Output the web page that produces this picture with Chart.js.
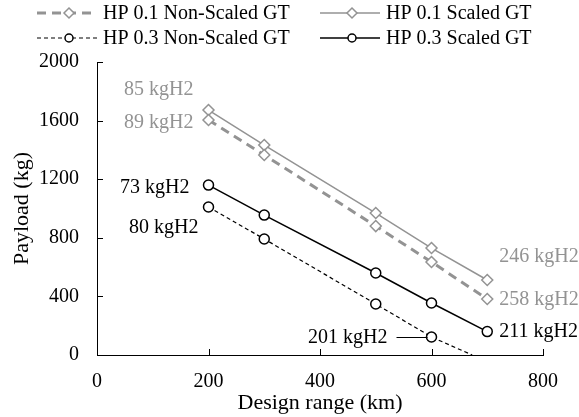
<!DOCTYPE html>
<html>
<head>
<meta charset="utf-8">
<script src="https://cdn.jsdelivr.net/npm/chart.js@4.4.1/dist/chart.umd.min.js"></script>
<style>
    html, body { margin: 0; padding: 0; background: #fff; }
    #wrap { width: 579px; height: 417px; }
</style>
</head>
<body>
<div id="wrap"><canvas id="chart" width="579" height="417"></canvas></div>
<script>
// design range (km)
const ranges = [200, 300, 500, 600, 700];
const hp01NonScaled = [1604, 1365, 880, 635, 382];
const hp01Scaled = [1672, 1433, 969, 730, 512];
const hp03NonScaled = [1010, 792, 348, 123];
const hp03Scaled = [1160, 955, 560, 355, 160];
// dashed HP 0.3 line keeps going until it hits zero
const hp03NonScaledEnd = [673, 0];

const xTicks = [0, 200, 400, 600, 800];
const yTicks = [0, 400, 800, 1200, 1600, 2000];

// hydrogen mass labels: dataset, point index, text
const massLabels = [
    [1, 0, '85 kgH2'],
    [0, 0, '89 kgH2'],
    [3, 0, '73 kgH2'],
    [2, 0, '80 kgH2'],
    [1, 4, '246 kgH2'],
    [0, 4, '258 kgH2'],
    [3, 4, '211 kgH2'],
    [2, 3, '201 kgH2']
];
const labelPlace = [
    { dx: -15, dy: -20, align: 'right' },
    { dx: -15, dy: 3, align: 'right' },
    { dx: -19, dy: 3, align: 'right' },
    { dx: -10, dy: 21, align: 'right' },
    { dx: 12, dy: -23, align: 'left' },
    { dx: 12, dy: 1, align: 'left' },
    { dx: 12, dy: 0, align: 'left' },
    { dx: -44, dy: 1, align: 'right', leader: true }
];

const GRAY = '#939393';
const SERIF = '"Liberation Serif", "Times New Roman", serif';

function toPoints(xs, ys) {
    return ys.map((y, i) => ({ x: xs[i], y: y }));
}

const dashedBlack = toPoints(ranges, hp03NonScaled);
dashedBlack.push({ x: hp03NonScaledEnd[0], y: hp03NonScaledEnd[1] });

const datasets = [
    {
        label: 'HP 0.1 Non-Scaled GT',
        data: toPoints(ranges, hp01NonScaled),
        borderColor: GRAY, borderWidth: 3, borderDash: [9, 6],
        pointStyle: 'rectRot', pointRadius: 5.5, pointBorderWidth: 1.5,
        pointBackgroundColor: '#fff', pointBorderColor: GRAY
    },
    {
        label: 'HP 0.1 Scaled GT',
        data: toPoints(ranges, hp01Scaled),
        borderColor: GRAY, borderWidth: 1.5,
        pointStyle: 'rectRot', pointRadius: 5.5, pointBorderWidth: 1.5,
        pointBackgroundColor: '#fff', pointBorderColor: GRAY
    },
    {
        label: 'HP 0.3 Non-Scaled GT',
        data: dashedBlack,
        borderColor: '#000', borderWidth: 1.2, borderDash: [4, 3],
        pointStyle: 'circle', pointBorderWidth: 1.5,
        pointRadius: dashedBlack.map((p, i) => i < hp03NonScaled.length ? 5 : 0),
        pointBackgroundColor: '#fff', pointBorderColor: '#000'
    },
    {
        label: 'HP 0.3 Scaled GT',
        data: toPoints(ranges, hp03Scaled),
        borderColor: '#000', borderWidth: 1.5,
        pointStyle: 'circle', pointRadius: 5, pointBorderWidth: 1.5,
        pointBackgroundColor: '#fff', pointBorderColor: '#000'
    }
];

// legend, inward tick marks and mass labels
const decorations = {
    id: 'decorations',
    afterDraw(chart) {
        const ctx = chart.ctx;
        const xs = chart.scales.x, ys = chart.scales.y;
        const area = chart.chartArea;
        ctx.save();

        // inward ticks
        ctx.strokeStyle = '#000';
        ctx.lineWidth = 1;
        ctx.beginPath();
        xTicks.forEach(v => {
            if (v === 0) return;
            const px = Math.round(xs.getPixelForValue(v)) + 0.5;
            ctx.moveTo(px, area.bottom);
            ctx.lineTo(px, area.bottom - 6);
        });
        yTicks.forEach(v => {
            if (v === 0) return;
            const py = Math.round(ys.getPixelForValue(v)) + 0.5;
            ctx.moveTo(area.left, py);
            ctx.lineTo(area.left + 6, py);
        });
        ctx.stroke();

        // mass labels
        ctx.font = '20px ' + SERIF;
        ctx.textBaseline = 'middle';
        massLabels.forEach((m, i) => {
            const place = labelPlace[i];
            const pt = chart.getDatasetMeta(m[0]).data[m[1]];
            ctx.fillStyle = m[0] < 2 ? GRAY : '#000';
            ctx.textAlign = place.align;
            ctx.fillText(m[2], pt.x + place.dx, pt.y + place.dy);
            if (place.leader) {
                ctx.strokeStyle = '#000';
                ctx.lineWidth = 1;
                ctx.beginPath();
                ctx.moveTo(pt.x + place.dx + 9, Math.round(pt.y) + 0.5);
                ctx.lineTo(pt.x - 4, Math.round(pt.y) + 0.5);
                ctx.stroke();
            }
        });

        // legend
        const cols = [37, 320];
        const rows = [13, 38];
        ctx.textAlign = 'left';
        datasets.forEach((ds, i) => {
            const x0 = cols[i % 2];
            const y0 = rows[Math.floor(i / 2)];
            ctx.strokeStyle = ds.borderColor;
            ctx.lineWidth = ds.borderWidth;
            ctx.setLineDash(ds.borderDash || []);
            ctx.beginPath();
            ctx.moveTo(x0, y0);
            ctx.lineTo(x0 + 60, y0);
            ctx.stroke();
            ctx.setLineDash([]);
            ctx.fillStyle = '#fff';
            ctx.strokeStyle = ds.pointBorderColor;
            ctx.lineWidth = 1.5;
            const cx = x0 + 32;
            ctx.beginPath();
            if (ds.pointStyle === 'rectRot') {
                ctx.moveTo(cx, y0 - 5); ctx.lineTo(cx + 5, y0);
                ctx.lineTo(cx, y0 + 5); ctx.lineTo(cx - 5, y0);
                ctx.closePath();
            } else {
                ctx.arc(cx, y0, 4, 0, Math.PI * 2);
            }
            ctx.fill();
            ctx.stroke();
            ctx.fillStyle = '#000';
            ctx.fillText(ds.label, x0 + 66, y0 + 1);
        });
        ctx.restore();
    }
};

new Chart(document.getElementById('chart'), {
    type: 'scatter',
    data: { datasets: datasets.map(d => Object.assign({ showLine: true, fill: false, tension: 0 }, d)) },
    options: {
        responsive: false,
        animation: false,
        layout: { padding: { top: 62, right: 36, left: 0, bottom: 0 } },
        plugins: { legend: { display: false }, tooltip: { enabled: false } },
        scales: {
            x: {
                type: 'linear', min: 0, max: 800,
                afterBuildTicks: s => { s.ticks = xTicks.map(v => ({ value: v })); },
                grid: { display: false, drawTicks: false },
                border: { display: true, color: '#000', width: 1 },
                ticks: { color: '#000', padding: 15, font: { family: SERIF, size: 20 }, callback: v => String(v) },
                title: { display: true, text: 'Design range (km)', color: '#000', padding: { top: 0, bottom: 1 }, font: { family: SERIF, size: 22 } },
                afterFit: s => { s.height = 62; }
            },
            y: {
                type: 'linear', min: 0, max: 2000,
                afterBuildTicks: s => { s.ticks = yTicks.map(v => ({ value: v })); },
                grid: { display: false, drawTicks: false },
                border: { display: true, color: '#000', width: 1 },
                ticks: { color: '#000', padding: 18, font: { family: SERIF, size: 20 }, callback: v => String(v) },
                title: { display: true, text: 'Payload (kg)', color: '#000', padding: { top: 9, bottom: 0 }, font: { family: SERIF, size: 22 } },
                afterFit: s => { s.width = 97; }
            }
        }
    },
    plugins: [decorations]
});
</script>
</body>
</html>
